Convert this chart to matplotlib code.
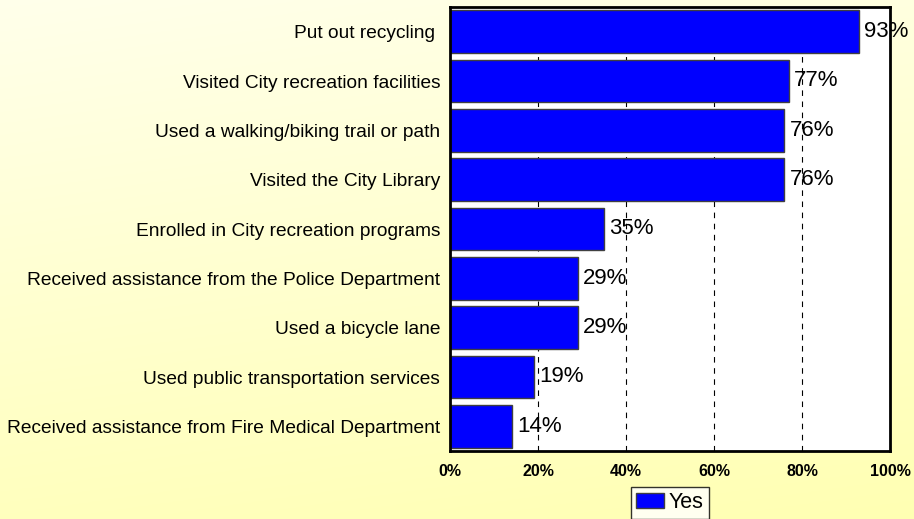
import numpy as np
import matplotlib.pyplot as plt

categories = ["Put out recycling ",
              "Visited City recreation facilities",
              "Used a walking/biking trail or path",
              "Visited the City Library",
              "Enrolled in City recreation programs",
              "Received assistance from the Police Department",
              "Used a bicycle lane",
              "Used public transportation services",
              "Received assistance from Fire Medical Department"]
yes_values = [93, 77, 76, 76, 35, 29, 29, 19, 14]
xticks = [0, 20, 40, 60, 80, 100]

plt.rcParams['font.family'] = ['Liberation Sans', 'DejaVu Sans']

fig = plt.figure(figsize=(9.14, 5.19), dpi=100)

# yellow gradient background
bg = fig.add_axes([0, 0, 1, 1], zorder=-10)
yy, xx = np.mgrid[0:1:200j, 0:1:200j]
t = np.clip(0.8 * yy + 0.2 * xx, 0, 1)
top = np.array([1.0, 1.0, 0.92])
bot = np.array([1.0, 1.0, 0.70])
img = top[None, None, :] * (1 - t[..., None]) + bot[None, None, :] * t[..., None]
bg.imshow(img, aspect='auto', extent=[0, 1, 0, 1], origin='upper')
bg.axis('off')

ax = fig.add_axes([450 / 914, 1 - 451 / 519, 440 / 914, 444 / 519])
ax.set_facecolor('white')
y = np.arange(len(categories))
bars = ax.barh(y, yes_values, height=0.87, color='#0000FF', edgecolor='#404040',
               linewidth=1.0, label='Yes', zorder=3)
for yi, v in zip(y, yes_values):
    ax.text(v + 1.2, yi, f"{v}%", va='center', ha='left', fontsize=16, zorder=1, clip_on=False)

ax.set_xlim(0, 100)
ax.set_ylim(len(categories) - 0.5, -0.5)
ax.set_yticks(y)
ax.set_yticklabels(categories, fontsize=13.8)
ax.set_xticks(xticks)
ax.set_xticklabels([f"{v}%" for v in xticks], fontsize=11.5, fontweight='bold')
ax.tick_params(axis='both', length=0)
ax.tick_params(axis='x', pad=9)
ax.tick_params(axis='y', pad=7)
ax.xaxis.grid(True, linestyle=(0, (5, 5)), color='black', linewidth=0.8, zorder=2)
ax.set_axisbelow(False)
for s in ax.spines.values():
    s.set_linewidth(2)
    s.set_color('black')
    s.set_zorder(5)

leg = ax.legend(loc='upper center', bbox_to_anchor=(0.5, -0.081), fontsize=15.5, frameon=True,
                fancybox=False, edgecolor='black', handlelength=1.3, handleheight=0.7,
                handletextpad=0.2, borderpad=0.25, borderaxespad=0)
leg.get_frame().set_linewidth(1.0)

fig.savefig('out.png', dpi=100)
